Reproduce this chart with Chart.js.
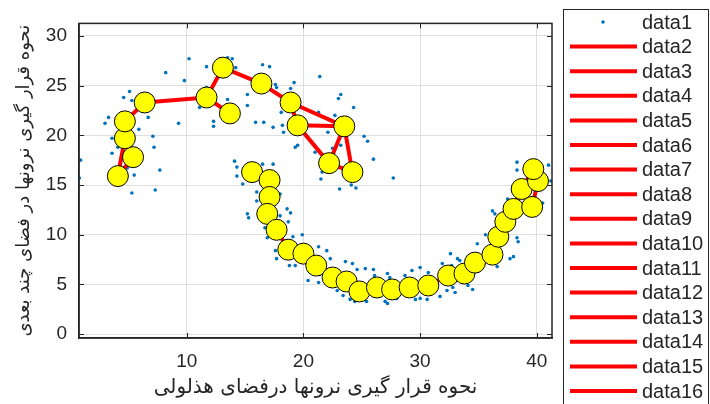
<!DOCTYPE html>
<html>
<head>
<meta charset="utf-8">
<script src="https://cdn.jsdelivr.net/npm/chart.js@4.4.1/dist/chart.umd.min.js"></script>
<style>
  body { margin: 0; background: #fff; }
</style>
</head>
<body>
<canvas id="som-chart" width="710" height="404"></canvas>
<script>
// tick labels
const xTicks = [10, 20, 30, 40];
const yTicks = [0, 5, 10, 15, 20, 25, 30];

// input samples (data1)
const dataX = [
  10.2, 8.2, 9.8, 5.1, 4.6, 5.3, 3.3, 3.0, 6.7, 5.9, 3.6, 7.1, 7.2, 4.1, 9.3, 0.9, 0.8, 7.7, 5.5, 5.3, 7.3, 4.9, 3.6,
  11.7, 12.9, 13.5, 13.9, 14.2, 11.7, 13.5, 12.3, 12.3, 11.1, 14.2, 15.2, 15.2, 15.9, 16.6, 16.5, 17.1, 17.6, 17.7,
  19.2, 18.9, 17.4, 18.2, 18.3, 18.1, 21.4, 23.2, 23.0, 24.3, 21.3, 22.1, 25.2, 25.5, 19.5, 19.3, 21.0, 23.2, 26.0,
  21.6, 21.5, 23.1, 24.1, 24.5, 27.7, 20.1, 22.7, 22.5,
  14.1, 14.3, 14.3, 14.8, 16.5, 17.4, 16.0, 16.0, 18.0, 18.6, 18.9, 18.0, 15.2, 15.3, 18.7, 16.7, 16.9, 19.9, 19.1,
  21.3, 22.0, 17.6, 17.7, 18.8, 19.3, 20.6, 22.3, 23.6, 24.2, 24.6, 25.3, 20.4, 21.3, 22.9, 23.4, 21.4, 20.6, 18.3,
  20.8, 22.1, 24.0, 24.4, 25.0,
  26.0, 26.1, 27.2, 27.4, 28.7, 29.3, 30.0, 30.7, 32.6, 33.2, 31.9, 34.1, 34.9, 27.0, 27.2, 28.0, 29.6, 30.0, 30.6,
  25.4, 32.3, 33.0, 34.1, 34.5, 31.7,
  33.4, 32.7, 32.8, 35.6, 36.6, 36.2, 36.4, 37.5, 38.3, 38.4, 37.7, 38.0, 36.6, 38.3, 38.3, 41.0, 41.2, 40.5, 39.8, 37.0
];
const dataY = [
  27.7, 26.3, 25.5, 24.4, 23.8, 23.5, 21.8, 21.2, 21.8, 20.6, 19.7, 19.9, 18.8, 18.8, 21.2, 17.5, 15.7, 16.5, 16.0, 14.2, 14.5, 16.7, 18.2,
  26.9, 27.7, 27.8, 27.7, 26.8, 24.8, 23.6, 21.4, 20.9, 22.8, 22.8, 24.1, 23.0, 21.3, 21.3, 27.1, 26.9, 25.1, 24.8,
  25.3, 24.7, 20.8, 21.0, 20.3, 22.3, 25.9, 24.1, 23.7, 22.8, 22.3, 20.3, 19.9, 19.4, 19.0, 18.8, 18.3, 19.0, 17.6,
  16.3, 15.6, 14.6, 15.0, 14.7, 15.7, 21.1, 22.0, 18.7,
  17.4, 16.8, 15.9, 15.1, 17.1, 17.1, 14.3, 13.4, 14.1, 12.6, 12.2, 11.9, 12.1, 11.7, 11.3, 10.7, 9.7, 10.0, 9.8,
  8.8, 8.4, 8.4, 7.6, 6.9, 6.9, 7.8, 7.6, 7.3, 7.1, 6.5, 6.6, 5.4, 5.2, 4.4, 3.9, 6.0, 6.2, 9.0,
  6.6, 5.0, 3.5, 3.3, 3.5,
  6.5, 5.9, 6.1, 5.7, 5.9, 6.4, 6.7, 6.2, 8.1, 7.6, 7.1, 7.8, 9.1, 3.3, 3.1, 3.6, 3.5, 3.6, 3.5,
  3.3, 4.4, 4.2, 4.9, 4.5, 3.8,
  7.4, 6.9, 4.7, 10.0, 11.3, 12.4, 12.1, 13.6, 9.7, 9.3, 7.6, 7.8, 6.8, 17.3, 16.5, 17.0, 15.4, 13.2, 13.7, 9.0
];

// neuron positions
const neuronX = [
  4.1, 5.4, 4.7, 4.7, 6.4, 11.7, 13.7, 13.1, 16.4, 18.9, 19.5, 23.5, 22.2, 24.2,
  15.6, 17.1, 17.1, 16.9, 17.7, 18.7, 20.0, 21.1, 22.5, 23.7, 24.8, 26.3, 27.6, 29.1, 30.7, 32.4,
  33.8, 34.7, 36.2, 36.7, 37.3, 38.0, 38.7, 39.6, 40.1, 39.7
];
const neuronY = [
  15.9, 17.8, 19.7, 21.4, 23.3, 23.8, 22.2, 26.8, 25.2, 23.3, 21.0, 20.9, 17.2, 16.3,
  16.3, 15.5, 13.8, 12.1, 10.5, 8.5, 8.1, 6.9, 5.7, 5.3, 4.3, 4.7, 4.5, 4.7, 4.9, 5.9,
  6.1, 7.2, 8.0, 9.8, 11.3, 12.6, 14.6, 12.8, 15.4, 16.6
];

// neuron links (index pairs), one red line each
const links = [
  [0, 1], [0, 2], [2, 3], [3, 4], [4, 5], [5, 7], [5, 6], [7, 8], [8, 9], [9, 10], [9, 11], [10, 11],
  [10, 12], [11, 12], [11, 13], [12, 13],
  [14, 15], [15, 16], [16, 17], [17, 18], [18, 19], [19, 20], [20, 21], [21, 22], [22, 23], [23, 24],
  [24, 25], [25, 26], [26, 27], [27, 28], [28, 29], [29, 30], [30, 31], [31, 32], [32, 33], [33, 34],
  [34, 35], [35, 36], [36, 39], [39, 38], [38, 37], [36, 37]
];

const datasets = [];
datasets.push({
  label: 'data1',
  data: dataX.map((x, i) => ({ x: x, y: dataY[i] })),
  pointRadius: 1.8,
  pointBorderWidth: 0,
  pointBackgroundColor: '#0072BD',
  order: 3
});
links.forEach((l, i) => {
  datasets.push({
    label: 'data' + (i + 2),
    data: [{ x: neuronX[l[0]], y: neuronY[l[0]] }, { x: neuronX[l[1]], y: neuronY[l[1]] }],
    showLine: true,
    borderColor: '#ff0000',
    borderWidth: 4,
    pointRadius: 0,
    order: 2
  });
});
datasets.push({
  label: 'neurons',
  data: neuronX.map((x, i) => ({ x: x, y: neuronY[i] })),
  pointRadius: 10.5,
  pointBackgroundColor: '#ffff00',
  pointBorderColor: '#000000',
  pointBorderWidth: 1,
  order: 1
});

// box + inward ticks like matlab
const axesBox = {
  id: 'axesBox',
  afterDatasetsDraw(chart) {
    const ctx = chart.ctx, a = chart.chartArea;
    const xs = chart.scales.x, ys = chart.scales.y;
    ctx.save();
    ctx.strokeStyle = '#262626';
    ctx.lineWidth = 1;
    ctx.beginPath();
    xTicks.forEach(v => {
      const p = Math.round(xs.getPixelForValue(v)) + 0.5;
      ctx.moveTo(p, a.bottom); ctx.lineTo(p, a.bottom - 5);
      ctx.moveTo(p, a.top); ctx.lineTo(p, a.top + 5);
    });
    yTicks.forEach(v => {
      const p = Math.round(ys.getPixelForValue(v)) + 0.5;
      ctx.moveTo(a.left, p); ctx.lineTo(a.left + 5, p);
      ctx.moveTo(a.right, p); ctx.lineTo(a.right - 5, p);
    });
    ctx.stroke();
    ctx.lineWidth = 1.5;
    ctx.strokeRect(a.left, a.top, a.right - a.left, a.bottom - a.top);
    ctx.restore();
  }
};

// legend box on the right (runs off the bottom like the original)
const sideLegend = {
  id: 'sideLegend',
  afterDraw(chart) {
    const ctx = chart.ctx;
    ctx.save();
    ctx.fillStyle = '#fff';
    ctx.fillRect(563, 9, 146, 420);
    ctx.strokeStyle = '#262626';
    ctx.lineWidth = 1;
    ctx.strokeRect(563.5, 9.5, 145, 420);
    ctx.font = '20px "Liberation Sans"';
    ctx.textBaseline = 'middle';
    chart.data.datasets.forEach((ds, i) => {
      if (ds.label === 'neurons') return;
      const y = 22 + i * 24.6;
      if (y > 420) return;
      if (i === 0) {
        ctx.fillStyle = '#0072BD';
        ctx.beginPath();
        ctx.arc(603, y, 1.8, 0, Math.PI * 2);
        ctx.fill();
      } else {
        ctx.strokeStyle = '#ff0000';
        ctx.lineWidth = 4;
        ctx.beginPath();
        ctx.moveTo(570, y); ctx.lineTo(637, y);
        ctx.stroke();
      }
      ctx.fillStyle = '#262626';
      ctx.fillText(ds.label, 642, y + 1);
    });
    ctx.restore();
  }
};

Chart.defaults.font.family = '"Liberation Sans", Arial, sans-serif';
Chart.defaults.color = '#262626';

new Chart(document.getElementById('som-chart'), {
  type: 'scatter',
  data: { datasets: datasets },
  options: {
    responsive: false,
    animation: false,
    layout: { padding: { top: 9, right: 158, left: 0, bottom: 0 } },
    plugins: {
      legend: { display: false },
      tooltip: { enabled: false }
    },
    scales: {
      x: {
        min: 0.77,
        max: 41.3,
        afterBuildTicks: s => { s.ticks = xTicks.map(v => ({ value: v })); },
        afterFit: s => { s.height = 66; },
        grid: { color: '#dfdfdf', drawTicks: false },
        border: { color: '#262626', width: 1.5 },
        ticks: { padding: 12, font: { size: 19 }, maxRotation: 0 },
        title: {
          display: true,
          text: 'نحوه قرار گیری نرونها درفضای هذلولی',
          font: { family: '"DejaVu Sans"', size: 20 },
          padding: { top: 0, bottom: 4 }
        }
      },
      y: {
        min: -0.38,
        max: 31.25,
        afterBuildTicks: s => { s.ticks = yTicks.map(v => ({ value: v })); },
        afterFit: s => { s.width = 79; },
        grid: { color: '#dfdfdf', drawTicks: false },
        border: { color: '#262626', width: 1.5 },
        ticks: { padding: 12, font: { size: 19 } },
        title: {
          display: true,
          text: 'نحوه قرار گیری نرونها در فضای چند بعدی',
          font: { family: '"DejaVu Sans"', size: 18 },
          padding: { top: 14, bottom: 0 }
        }
      }
    }
  },
  plugins: [axesBox, sideLegend]
});
</script>
</body>
</html>
